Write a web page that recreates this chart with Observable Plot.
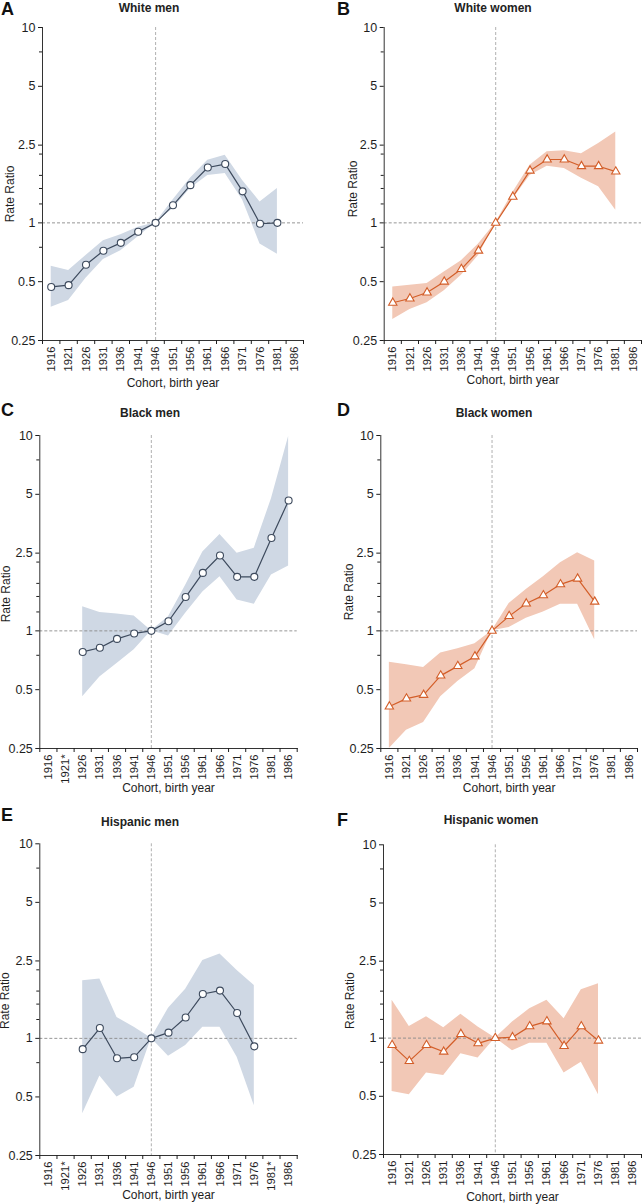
<!DOCTYPE html>
<html>
<head>
<meta charset="utf-8">
<script src="https://cdn.jsdelivr.net/npm/d3@7"></script>
<script src="https://cdn.jsdelivr.net/npm/@observablehq/plot@0.6"></script>
<style>
  html, body { margin: 0; padding: 0; background: #fff; }
  #root { position: relative; width: 642px; height: 1204px; font-family: "Liberation Sans", Arial, sans-serif; color: #222; }
  .panel { position: absolute; }
  .letter { position: absolute; font-size: 18px; font-weight: bold; line-height: 1; color: #111; }
  .title { position: absolute; font-size: 12px; font-weight: bold; line-height: 1; color: #222; transform: translateX(-50%); white-space: nowrap; }
</style>
</head>
<body>
<div id="root"></div>
<script>
// ---- data ----
const years = [1916, 1921, 1926, 1931, 1936, 1941, 1946, 1951, 1956, 1961, 1966, 1971, 1976, 1981, 1986];
const yearLabels = ["1916", "1921", "1926", "1931", "1936", "1941", "1946", "1951", "1956", "1961", "1966", "1971", "1976", "1981", "1986"];
const yearLabelsBlackMen = ["1916", "1921*", "1926", "1931", "1936", "1941", "1946", "1951", "1956", "1961", "1966", "1971", "1976", "1981", "1986"];
const yearLabelsHispanicMen = ["1916", "1921*", "1926", "1931", "1936", "1941", "1946", "1951", "1956", "1961", "1966", "1971", "1976", "1981*", "1986"];
const yTicks = [0.25, 0.5, 1, 2.5, 5, 10];
const yMinorTicks = [0.75, 1.25, 1.5, 1.75, 2.25, 7.5];

const whiteMenRR = [0.47, 0.48, 0.61, 0.72, 0.79, 0.90, 1, 1.23, 1.56, 1.92, 2.0, 1.45, 0.99, 1.0, null];
const whiteMenLo = [0.37, 0.40, 0.52, 0.65, 0.72, 0.85, 1, 1.18, 1.50, 1.75, 1.79, 1.31, 0.78, 0.69, null];
const whiteMenHi = [0.60, 0.57, 0.68, 0.81, 0.87, 0.95, 1, 1.31, 1.69, 2.09, 2.22, 1.65, 1.28, 1.50, null];

const whiteWomenRR = [0.39, 0.41, 0.44, 0.50, 0.58, 0.72, 1, 1.36, 1.85, 2.11, 2.11, 1.95, 1.95, 1.83, null];
const whiteWomenLo = [0.32, 0.36, 0.39, 0.45, 0.54, 0.68, 1, 1.32, 1.75, 1.95, 1.90, 1.69, 1.53, 1.16, null];
const whiteWomenHi = [0.47, 0.48, 0.49, 0.56, 0.64, 0.78, 1, 1.43, 1.97, 2.31, 2.34, 2.26, 2.55, 2.92, null];

const blackMenRR = [null, null, 0.78, 0.82, 0.91, 0.97, 1, 1.12, 1.49, 1.98, 2.43, 1.89, 1.89, 2.99, 4.65];
const blackMenLo = [null, null, 0.46, 0.58, 0.68, 0.80, 1, 0.94, 1.23, 1.58, 1.89, 1.44, 1.37, 1.93, 2.15];
const blackMenHi = [null, null, 1.33, 1.24, 1.22, 1.19, 1, 1.18, 1.71, 2.53, 3.11, 2.50, 2.65, 4.75, 9.88];

const blackWomenRR = [0.41, 0.45, 0.47, 0.59, 0.66, 0.74, 1, 1.19, 1.38, 1.52, 1.73, 1.85, 1.41, null, null];
const blackWomenLo = [0.25, 0.31, 0.34, 0.46, 0.55, 0.64, 1, 1.04, 1.16, 1.25, 1.37, 1.37, 0.90, null, null];
const blackWomenHi = [0.69, 0.67, 0.65, 0.77, 0.81, 0.86, 1, 1.38, 1.63, 1.89, 2.23, 2.51, 2.28, null, null];

const hispanicMenRR = [null, null, 0.88, 1.13, 0.79, 0.80, 1, 1.07, 1.28, 1.69, 1.76, 1.35, 0.91, null, null];
const hispanicMenLo = [null, null, 0.41, 0.64, 0.50, 0.56, 1, 0.81, 0.92, 1.14, 1.14, 0.80, 0.45, null, null];
const hispanicMenHi = [null, null, 1.98, 2.02, 1.28, 1.14, 1, 1.43, 1.79, 2.51, 2.71, 2.23, 1.87, null, null];

const hispanicWomenRR = [0.92, 0.76, 0.92, 0.85, 1.05, 0.94, 1, 1.01, 1.15, 1.22, 0.91, 1.15, 0.97, null, null];
const hispanicWomenLo = [0.53, 0.51, 0.66, 0.64, 0.83, 0.79, 1, 0.86, 0.94, 0.94, 0.66, 0.75, 0.51, null, null];
const hispanicWomenHi = [1.57, 1.15, 1.29, 1.13, 1.33, 1.14, 1, 1.21, 1.42, 1.57, 1.26, 1.78, 1.91, null, null];

// ---- styles ----
const menStyle = { band: "#cfd8e4", line: "#3d4a5d", symbol: "circle", r: 3.5 };
const womenStyle = { band: "#f2c8b6", line: "#d35e29", symbol: "triangle", r: 3.1 };

const panels = [
  { letter: "A", title: "White men", rr: whiteMenRR, lo: whiteMenLo, hi: whiteMenHi, labels: yearLabels, st: menStyle,
    left: 0, top: 0, h: 400, mt: 27, mb: 60, ml: 42, mr: 18, lx: 1, ly: 0, tx: 149, ty: 1.5, yldx: -32, yldy: 10, xldy: 43 },
  { letter: "B", title: "White women", rr: whiteWomenRR, lo: whiteWomenLo, hi: whiteWomenHi, labels: yearLabels, st: womenStyle,
    left: 321, top: 0, h: 400, mt: 27, mb: 60, ml: 62.7, mr: 1, lx: 16, ly: 0, tx: 172, ty: 1.5, yldx: -31, yldy: 5, xldy: 40 },
  { letter: "C", title: "Black men", rr: blackMenRR, lo: blackMenLo, hi: blackMenHi, labels: yearLabelsBlackMen, st: menStyle,
    left: 0, top: 400, h: 400, mt: 35, mb: 52, ml: 39.3, mr: 24.3, lx: 1, ly: 1, tx: 150, ty: 7, yldx: -34, yldy: 2, xldy: 40 },
  { letter: "D", title: "Black women", rr: blackWomenRR, lo: blackWomenLo, hi: blackWomenHi, labels: yearLabels, st: womenStyle,
    left: 321, top: 400, h: 400, mt: 35, mb: 52, ml: 59.3, mr: 5, lx: 16, ly: 1, tx: 173, ty: 7, yldx: -32, yldy: 0, xldy: 40 },
  { letter: "E", title: "Hispanic men", rr: hispanicMenRR, lo: hispanicMenLo, hi: hispanicMenHi, labels: yearLabelsHispanicMen, st: menStyle,
    left: 0, top: 800, h: 404, mt: 43.3, mb: 49, ml: 39.3, mr: 24.3, lx: 1, ly: 6, tx: 140, ty: 16, yldx: -35, yldy: 1, xldy: 40 },
  { letter: "F", title: "Hispanic women", rr: hispanicWomenRR, lo: hispanicWomenLo, hi: hispanicWomenHi, labels: yearLabels, st: womenStyle,
    left: 321, top: 800, h: 404, mt: 44.3, mb: 50, ml: 62, mr: 1, lx: 16, ly: 11, tx: 170, ty: 14, yldx: -33, yldy: 1, xldy: 43 }
];

const halfStep = (years[1] - years[0]) / 2;
const xDomain = [years[0] - halfStep, years[years.length - 1] + halfStep];
const boundaries = [years[0] - halfStep, ...years.map(y => y + halfStep)];

const root = document.getElementById("root");

for (const p of panels) {
  const rows = years.map((yr, i) => ({ year: yr, rr: p.rr[i], lo: p.lo[i], hi: p.hi[i] }))
    .filter(d => d.rr != null);
  const labelOf = new Map(years.map((y, i) => [y, p.labels[i]]));

  const chart = Plot.plot({
    width: 321,
    height: p.h,
    marginTop: p.mt,
    marginBottom: p.mb,
    marginLeft: p.ml,
    marginRight: p.mr,
    style: { fontFamily: "Liberation Sans, Arial, sans-serif", fontSize: "11px", color: "#1e1e1e", background: "transparent", overflow: "visible" },
    x: { type: "linear", domain: xDomain, axis: null },
    y: { type: "log", domain: [0.25, 10], axis: null },
    marks: [
      Plot.areaY(rows, { x: "year", y1: "lo", y2: "hi", fill: p.st.band, fillOpacity: 1 }),
      Plot.ruleY([1], { stroke: "#8a8a8a", strokeWidth: 0.9, strokeDasharray: "3,2" }),
      Plot.ruleX([years[6]], { stroke: "#a8a8a8", strokeWidth: 0.9, strokeDasharray: "3,2" }),
      Plot.line(rows, { x: "year", y: "rr", stroke: p.st.line, strokeWidth: 1.2 }),
      Plot.dot(rows, { x: "year", y: "rr", symbol: p.st.symbol, r: p.st.r, fill: "white", stroke: p.st.line, strokeWidth: 1.1 }),
      Plot.frame({ anchor: "left", stroke: "#333" }),
      Plot.frame({ anchor: "bottom", stroke: "#333" }),
      Plot.axisY({ ticks: yTicks, tickFormat: d => String(d), tickSize: 4, tickPadding: 3, label: null, fontSize: 12.5 }),
      Plot.axisY({ ticks: yMinorTicks, tickFormat: () => "", tickSize: 3, label: null }),
      Plot.axisX({ ticks: boundaries, tickFormat: () => "", tickSize: 4, label: null }),
      Plot.axisX({ ticks: years, tickFormat: d => labelOf.get(d), tickSize: 0, tickPadding: 6, tickRotate: -90, label: null, fontSize: 11.2 }),
      Plot.text(["Rate Ratio"], { text: d => d, frameAnchor: "left", rotate: -90, textAnchor: "middle", lineAnchor: "middle", dx: p.yldx, dy: p.yldy, fontSize: 12 }),
      Plot.text(["Cohort, birth year"], { text: d => d, frameAnchor: "bottom", textAnchor: "middle", lineAnchor: "middle", dy: p.xldy, fontSize: 12 })
    ]
  });

  const wrap = document.createElement("div");
  wrap.className = "panel";
  wrap.style.left = p.left + "px";
  wrap.style.top = p.top + "px";
  wrap.appendChild(chart);
  root.appendChild(wrap);

  const letter = document.createElement("div");
  letter.className = "letter";
  letter.textContent = p.letter;
  letter.style.left = (p.left + p.lx) + "px";
  letter.style.top = (p.top + p.ly) + "px";
  root.appendChild(letter);

  const title = document.createElement("div");
  title.className = "title";
  title.textContent = p.title;
  title.style.left = (p.left + p.tx) + "px";
  title.style.top = (p.top + p.ty) + "px";
  root.appendChild(title);
}
</script>
</body>
</html>
